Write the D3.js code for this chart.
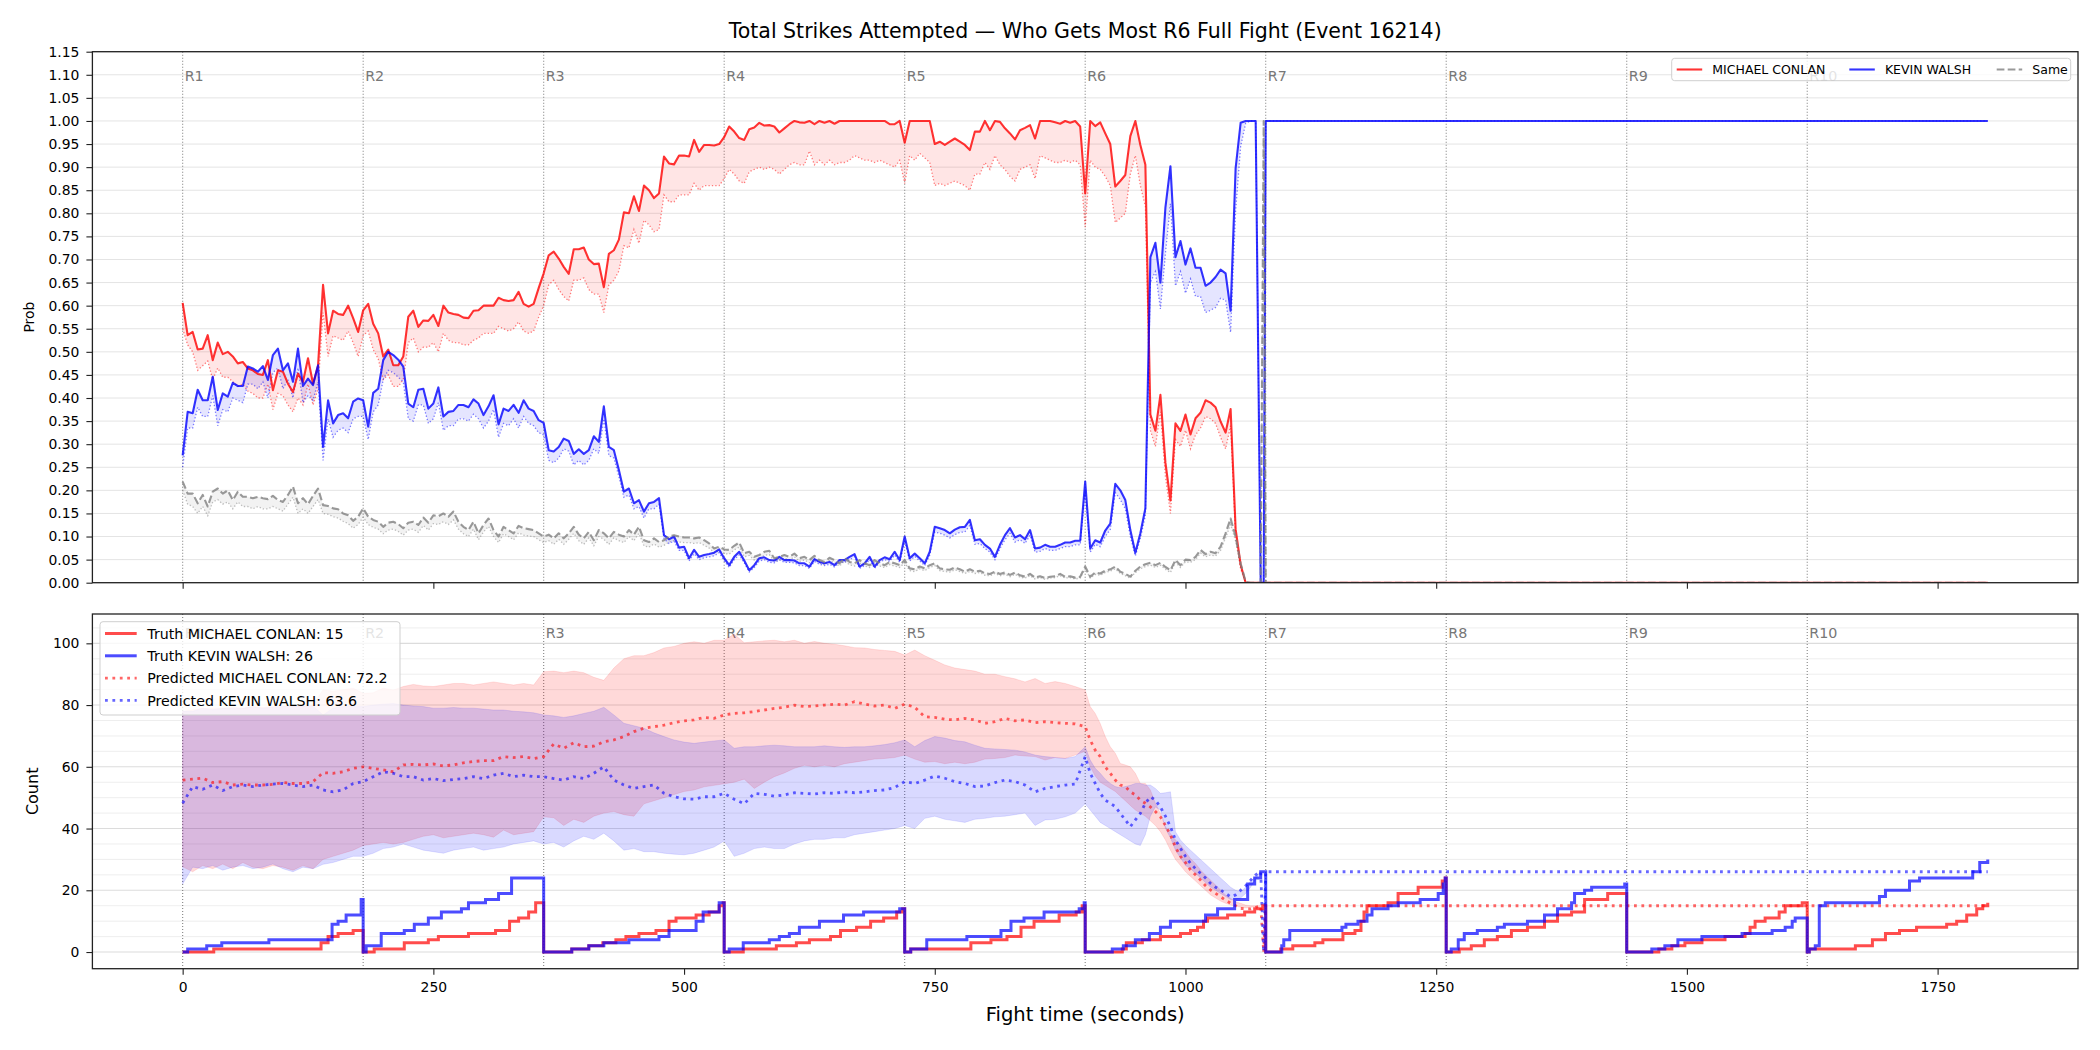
<!DOCTYPE html>
<html>
<head>
<meta charset="utf-8">
<script src="https://cdn.jsdelivr.net/npm/d3@7"></script>
<style>
  body { margin: 0; background: #fff; }
  text { font-family: "DejaVu Sans", sans-serif; }
</style>
</head>
<body>
<div id="chart"></div>
<script>
// ---------- data: win probability panel (sampled every 5 s, plus the R7 reset) ----------
var probTimes = d3.range(0, 1080, 5).concat([1078, 1080, 1800]);

var conlanProb = [
  0.606,0.536,0.543,0.505,0.507,0.536,0.482,0.52,0.495,0.50,0.49,0.475,
  0.478,0.464,0.46,0.452,0.45,0.482,0.417,0.46,0.457,0.431,0.413,0.453,
  0.435,0.486,0.431,0.47,0.645,0.54,0.589,0.582,0.58,0.60,0.573,0.543,
  0.59,0.604,0.561,0.54,0.49,0.505,0.471,0.471,0.49,0.576,0.589,0.554,
  0.568,0.567,0.58,0.556,0.60,0.585,0.582,0.58,0.574,0.573,0.589,0.59,
  0.60,0.60,0.60,0.617,0.612,0.61,0.612,0.63,0.604,0.598,0.604,0.638,
  0.67,0.709,0.717,0.702,0.684,0.669,0.722,0.722,0.726,0.70,0.69,0.691,
  0.64,0.712,0.72,0.743,0.802,0.80,0.837,0.805,0.86,0.85,0.833,0.843,
  0.923,0.908,0.906,0.925,0.925,0.923,0.959,0.933,0.948,0.948,0.947,0.95,
  0.965,0.988,0.977,0.963,0.959,0.982,0.986,0.996,0.99,0.991,0.988,0.975,
  0.984,0.993,1.0,0.997,0.996,1.0,0.993,1.0,0.996,1.0,0.994,1.0,
  1.0,1.0,1.0,1.0,1.0,1.0,1.0,1.0,1.0,0.993,0.993,1.0,
  0.953,1.0,1.0,1.0,1.0,1.0,0.95,0.955,0.948,0.955,0.962,0.955,
  0.948,0.937,0.977,0.977,1.0,0.98,1.0,0.998,0.984,0.973,0.96,0.98,
  0.985,0.991,0.962,1.0,1.0,1.0,0.997,0.994,1.0,0.996,1.0,0.988,
  0.843,1.0,0.989,0.997,0.973,0.95,0.858,0.87,0.883,0.967,1.0,0.948,
  0.905,0.364,0.329,0.407,0.26,0.178,0.345,0.329,0.364,0.321,0.356,0.368,
  0.395,0.39,0.38,0.349,0.325,0.376,0.116,0.039,0,0,0,0,
  0,0,0
];
var conlanProbLow = [
  0.55,0.515,0.50,0.46,0.47,0.48,0.44,0.465,0.445,0.445,0.435,0.425,
  0.43,0.415,0.41,0.40,0.40,0.43,0.375,0.41,0.405,0.385,0.37,0.40,
  0.385,0.43,0.385,0.42,0.585,0.49,0.535,0.53,0.525,0.545,0.52,0.49,
  0.535,0.545,0.505,0.485,0.44,0.45,0.425,0.425,0.44,0.52,0.53,0.50,
  0.51,0.51,0.52,0.50,0.54,0.525,0.52,0.52,0.515,0.515,0.525,0.53,
  0.54,0.54,0.54,0.555,0.55,0.545,0.55,0.565,0.545,0.54,0.545,0.575,
  0.60,0.645,0.655,0.635,0.62,0.61,0.655,0.655,0.66,0.635,0.625,0.625,
  0.585,0.645,0.655,0.675,0.73,0.725,0.765,0.735,0.785,0.775,0.76,0.765,
  0.84,0.825,0.825,0.84,0.84,0.84,0.865,0.85,0.86,0.86,0.86,0.86,
  0.875,0.895,0.885,0.87,0.865,0.89,0.895,0.90,0.895,0.90,0.895,0.885,
  0.895,0.905,0.91,0.905,0.905,0.935,0.905,0.915,0.905,0.915,0.905,0.91,
  0.91,0.915,0.925,0.92,0.915,0.915,0.91,0.915,0.91,0.905,0.90,0.915,
  0.865,0.925,0.915,0.93,0.92,0.91,0.86,0.865,0.86,0.865,0.87,0.865,
  0.86,0.85,0.885,0.885,0.91,0.895,0.925,0.905,0.895,0.88,0.87,0.895,
  0.90,0.905,0.875,0.925,0.92,0.915,0.91,0.91,0.915,0.91,0.915,0.905,
  0.77,0.915,0.90,0.895,0.88,0.86,0.78,0.79,0.80,0.885,0.925,0.86,
  0.815,0.33,0.295,0.37,0.23,0.15,0.31,0.295,0.33,0.29,0.32,0.335,
  0.36,0.355,0.345,0.315,0.29,0.34,0.10,0.03,0,0,0,0,
  0,0,0
];
var walshProb = [
  0.276,0.37,0.367,0.418,0.395,0.395,0.446,0.374,0.41,0.403,0.433,0.426,
  0.426,0.468,0.464,0.457,0.469,0.439,0.493,0.507,0.46,0.475,0.435,0.507,
  0.426,0.442,0.428,0.471,0.294,0.395,0.345,0.363,0.367,0.356,0.392,0.399,
  0.395,0.338,0.411,0.42,0.482,0.50,0.493,0.483,0.468,0.388,0.38,0.418,
  0.42,0.377,0.388,0.423,0.36,0.37,0.372,0.385,0.385,0.38,0.397,0.388,
  0.363,0.382,0.406,0.343,0.377,0.372,0.385,0.368,0.395,0.377,0.372,0.352,
  0.346,0.287,0.284,0.294,0.312,0.307,0.279,0.289,0.279,0.287,0.317,0.305,
  0.382,0.294,0.287,0.244,0.197,0.204,0.172,0.179,0.154,0.172,0.175,0.183,
  0.103,0.094,0.10,0.076,0.078,0.053,0.071,0.056,0.06,0.062,0.065,0.072,
  0.053,0.038,0.056,0.067,0.048,0.027,0.038,0.053,0.055,0.049,0.048,0.056,
  0.049,0.049,0.048,0.042,0.042,0.035,0.051,0.045,0.042,0.045,0.038,0.049,
  0.049,0.056,0.062,0.035,0.042,0.056,0.035,0.049,0.055,0.051,0.067,0.049,
  0.10,0.053,0.063,0.053,0.042,0.067,0.121,0.118,0.114,0.107,0.115,0.12,
  0.121,0.136,0.092,0.094,0.082,0.074,0.056,0.082,0.103,0.118,0.098,0.103,
  0.094,0.114,0.074,0.076,0.082,0.078,0.078,0.082,0.087,0.087,0.091,0.091,
  0.219,0.074,0.092,0.087,0.113,0.128,0.214,0.20,0.179,0.114,0.065,0.107,
  0.161,0.705,0.736,0.65,0.813,0.902,0.705,0.74,0.689,0.724,0.682,0.682,
  0.643,0.65,0.662,0.678,0.67,0.589,0.898,0.996,1.0,1.0,1.0,0,
  0,1.0,1.0
];
var walshProbLow = [
  0.25,0.335,0.335,0.38,0.36,0.36,0.405,0.34,0.375,0.37,0.40,0.395,
  0.39,0.43,0.43,0.42,0.435,0.40,0.455,0.465,0.42,0.44,0.40,0.465,
  0.39,0.405,0.395,0.435,0.265,0.355,0.315,0.33,0.335,0.325,0.355,0.36,
  0.36,0.31,0.37,0.385,0.44,0.46,0.455,0.445,0.435,0.355,0.35,0.385,
  0.385,0.345,0.355,0.39,0.33,0.34,0.34,0.355,0.355,0.35,0.365,0.355,
  0.335,0.35,0.375,0.315,0.345,0.34,0.355,0.335,0.36,0.345,0.34,0.325,
  0.32,0.265,0.26,0.27,0.29,0.285,0.255,0.265,0.255,0.265,0.29,0.28,
  0.355,0.275,0.27,0.23,0.185,0.19,0.16,0.165,0.14,0.16,0.16,0.17,
  0.095,0.085,0.09,0.07,0.07,0.047,0.063,0.05,0.054,0.056,0.058,0.065,
  0.047,0.033,0.05,0.06,0.043,0.023,0.033,0.047,0.05,0.044,0.043,0.05,
  0.044,0.044,0.043,0.037,0.037,0.031,0.046,0.04,0.037,0.04,0.034,0.044,
  0.044,0.05,0.056,0.031,0.037,0.05,0.031,0.044,0.05,0.046,0.06,0.044,
  0.09,0.047,0.057,0.047,0.037,0.06,0.11,0.107,0.103,0.097,0.104,0.109,
  0.11,0.124,0.083,0.085,0.074,0.066,0.05,0.074,0.093,0.107,0.088,0.093,
  0.085,0.103,0.066,0.068,0.074,0.07,0.07,0.074,0.078,0.078,0.082,0.082,
  0.20,0.066,0.083,0.078,0.10,0.115,0.195,0.18,0.16,0.10,0.058,0.096,
  0.145,0.65,0.674,0.593,0.713,0.821,0.643,0.674,0.627,0.658,0.62,0.62,
  0.585,0.59,0.596,0.616,0.612,0.542,0.805,0.945,0.995,1.0,1.0,0,
  0,1.0,1.0
];
var sameProb = [
  0.219,0.193,0.193,0.172,0.19,0.165,0.197,0.204,0.193,0.20,0.179,0.197,
  0.186,0.186,0.183,0.186,0.183,0.181,0.188,0.179,0.175,0.19,0.208,0.172,
  0.183,0.17,0.188,0.204,0.168,0.166,0.161,0.159,0.15,0.146,0.134,0.143,
  0.161,0.143,0.136,0.132,0.121,0.13,0.132,0.127,0.118,0.13,0.132,0.125,
  0.141,0.13,0.146,0.144,0.15,0.143,0.154,0.132,0.121,0.114,0.132,0.107,
  0.125,0.139,0.114,0.10,0.121,0.114,0.107,0.123,0.118,0.116,0.114,0.107,
  0.10,0.104,0.096,0.107,0.096,0.107,0.121,0.104,0.096,0.11,0.092,0.114,
  0.107,0.096,0.11,0.104,0.10,0.114,0.104,0.121,0.092,0.088,0.096,0.088,
  0.092,0.10,0.103,0.10,0.098,0.098,0.096,0.098,0.092,0.085,0.074,0.078,
  0.072,0.071,0.08,0.087,0.064,0.067,0.056,0.06,0.067,0.069,0.053,0.056,
  0.06,0.056,0.063,0.053,0.056,0.049,0.058,0.049,0.045,0.054,0.049,0.042,
  0.053,0.045,0.042,0.049,0.042,0.038,0.049,0.042,0.038,0.045,0.042,0.038,
  0.049,0.031,0.029,0.035,0.031,0.038,0.042,0.031,0.029,0.028,0.033,0.029,
  0.024,0.029,0.024,0.026,0.02,0.019,0.024,0.019,0.022,0.017,0.022,0.016,
  0.013,0.019,0.011,0.014,0.01,0.013,0.014,0.019,0.013,0.014,0.011,0.013,
  0.035,0.013,0.022,0.02,0.026,0.029,0.035,0.024,0.019,0.013,0.026,0.035,
  0.04,0.043,0.038,0.043,0.034,0.027,0.049,0.038,0.05,0.049,0.056,0.071,
  0.062,0.067,0.064,0.078,0.107,0.139,0.10,0.042,0.002,0,0,0,
  1.0,0,0
];
var sameProbLow = [
  0.20,0.17,0.165,0.15,0.165,0.145,0.175,0.18,0.17,0.175,0.16,0.175,
  0.165,0.165,0.16,0.165,0.16,0.16,0.165,0.16,0.155,0.17,0.185,0.15,
  0.16,0.15,0.165,0.18,0.15,0.148,0.143,0.14,0.133,0.128,0.118,0.126,
  0.142,0.126,0.12,0.116,0.106,0.114,0.116,0.111,0.103,0.114,0.116,0.109,
  0.124,0.114,0.128,0.126,0.132,0.126,0.136,0.116,0.106,0.10,0.116,0.093,
  0.11,0.122,0.10,0.087,0.106,0.10,0.093,0.108,0.103,0.101,0.10,0.093,
  0.087,0.091,0.083,0.094,0.083,0.094,0.107,0.091,0.083,0.097,0.08,0.10,
  0.094,0.083,0.097,0.091,0.087,0.10,0.091,0.107,0.08,0.077,0.084,0.077,
  0.081,0.088,0.091,0.088,0.087,0.087,0.085,0.087,0.081,0.075,0.065,0.069,
  0.063,0.062,0.071,0.077,0.056,0.059,0.049,0.053,0.059,0.061,0.046,0.049,
  0.053,0.049,0.056,0.046,0.049,0.043,0.051,0.043,0.039,0.048,0.043,0.036,
  0.047,0.039,0.036,0.043,0.036,0.033,0.043,0.036,0.033,0.039,0.036,0.033,
  0.043,0.026,0.024,0.03,0.026,0.033,0.037,0.026,0.024,0.023,0.028,0.024,
  0.02,0.024,0.02,0.022,0.016,0.015,0.02,0.015,0.018,0.013,0.018,0.012,
  0.01,0.015,0.008,0.011,0.007,0.01,0.011,0.015,0.01,0.011,0.008,0.01,
  0.03,0.01,0.018,0.016,0.022,0.025,0.03,0.02,0.015,0.01,0.022,0.03,
  0.035,0.038,0.033,0.038,0.029,0.022,0.044,0.033,0.045,0.044,0.05,0.064,
  0.056,0.06,0.058,0.07,0.097,0.126,0.09,0.035,0,0,0,0,
  0.97,0,0
];
var probTicks = [0,0.05,0.1,0.15,0.2,0.25,0.3,0.35,0.4,0.45,0.5,0.55,0.6,0.65,0.7,0.75,0.8,0.85,0.9,0.95,1,1.05,1.1,1.15];

// ---------- data: count panel ----------
var roundStarts = [0, 180, 360, 540, 720, 900, 1080, 1260, 1440, 1620];
var roundNames = ["R1","R2","R3","R4","R5","R6","R7","R8","R9","R10"];
var timeTicks = [0, 250, 500, 750, 1000, 1250, 1500, 1750];
var countTicks = [0, 20, 40, 60, 80, 100];

// truth counts, [seconds, count] at each change (reset every round)
var conlanTruth = [
  [0,0],[31,1],[138,3],[145,5],[155,6],[170,7],
  [180,0],[191,1],[221,3],[245,4],[255,5],[285,6],[312,7],[326,10],[335,11],[345,13],[352,16],
  [360,0],[388,1],[405,2],[419,3],[432,4],[442,5],[455,6],[472,7],[485,10],[492,11],[512,12],[525,13],[535,15],[539,16],
  [540,0],[559,1],[592,2],[612,3],[625,4],[646,5],[656,7],[672,8],[686,10],[699,11],[712,13],[718,14],
  [720,0],[726,1],[786,3],[806,4],[822,5],[836,8],[849,10],[874,12],[891,13],[897,15],
  [900,0],[937,1],[941,3],[957,4],[975,5],[995,6],[1005,7],[1012,8],[1018,10],[1022,11],[1042,12],[1059,13],[1069,14],[1077,15],
  [1080,0],[1095,1],[1107,2],[1129,3],[1137,4],[1157,6],[1169,7],[1175,10],[1178,13],[1181,15],[1202,16],[1212,19],[1232,21],[1256,23],[1259,24],
  [1260,0],[1273,1],[1285,2],[1298,4],[1311,5],[1325,7],[1341,8],[1358,10],[1371,12],[1385,13],[1398,17],[1421,19],
  [1440,0],[1472,1],[1485,2],[1498,3],[1515,4],[1538,5],[1558,6],[1563,8],[1568,10],[1578,11],[1592,13],[1598,15],[1615,16],
  [1620,0],[1622,1],[1668,2],[1685,4],[1698,6],[1712,7],[1729,8],[1759,9],[1769,10],[1779,12],[1789,14],[1795,15],[1800,16]
];
var walshTruth = [
  [0,0],[5,1],[24,2],[39,3],[86,4],[149,9],[155,10],[163,12],[178,17],
  [180,0],[183,2],[198,6],[221,7],[231,9],[245,11],[258,13],[278,14],[285,16],[302,17],[315,19],[328,24],
  [360,0],[388,1],[405,2],[420,3],[445,4],[475,5],[485,7],[512,10],[519,13],[535,16],
  [540,0],[545,1],[559,3],[585,4],[595,5],[605,6],[615,8],[635,10],[659,12],[679,13],[715,14],
  [720,0],[726,1],[742,4],[782,5],[816,7],[826,10],[839,11],[859,13],[894,14],[899,16],
  [900,0],[927,1],[938,2],[950,4],[964,6],[975,8],[985,10],[1020,12],[1032,14],[1049,17],[1062,22],[1069,24],[1075,26],
  [1080,0],[1096,2],[1098,4],[1104,7],[1156,8],[1160,9],[1172,10],[1181,12],[1186,14],[1202,15],[1212,16],[1234,17],[1252,19],[1257,22],[1259,24],
  [1260,0],[1265,1],[1272,4],[1278,6],[1291,7],[1311,8],[1318,9],[1341,10],[1358,12],[1371,14],[1385,16],[1388,19],[1398,20],[1405,21],[1438,22],
  [1440,0],[1465,1],[1478,2],[1491,4],[1515,5],[1555,6],[1585,7],[1598,8],[1605,10],[1608,11],
  [1620,0],[1622,1],[1628,2],[1632,15],[1638,16],[1692,18],[1698,20],[1722,23],[1732,24],[1785,26],[1792,29],[1800,30]
];

// predicted counts: every 10 s up to 890, every 5 s in R6, then the reset
var predTimes = d3.range(0, 900, 10).concat(d3.range(900, 1080, 5)).concat([1078, 1080, 1800]);
var conlanPred = [
  55.7,56,56.3,54.9,55.2,54.1,54.4,54.1,54.1,54.3,54.9,54.6,
  54.6,55.2,58.1,57.9,58.4,59.5,60,59.5,59,58.4,60.6,60.8,
  60.6,60.9,60.3,60.6,61.3,61.7,62,62,63.3,63,63.3,62.7,
  63.3,67.4,66,67.8,66.5,66.7,68.1,68.7,69.8,71.4,72.5,73,
  73.5,74.3,74.9,75.2,76,75.7,76.8,77.3,77.5,77.9,78.4,78.9,
  79.3,80,79.5,79.7,80,80.3,80,81.1,80.3,79.7,80,78.9,
  80.3,79.3,76.2,76,75.4,75.2,75.7,75.2,74.1,74.6,75.7,74.9,
  75.2,74.3,74.6,74.3,74.1,73.9,
  73,68.7,65.4,63.3,60,57.9,55.7,54.1,53.6,51.9,50.9,49.2,
  48.2,47,45.5,43.8,41,38,34,31,29,26.6,25,23.3,
  21.5,20.1,19,17.9,16.8,15.8,15,14.1,14,14,14.5,14.9,
  0,15,15
];
var walshPred = [
  48.2,53.6,52.7,54.1,52.3,53.6,54.1,53.6,54.1,54.4,54.6,54.1,
  53.6,54.1,52.5,51.9,52.5,54.6,55.2,56.8,58.4,57.9,56.8,56.8,
  55.7,56.2,55.5,55.9,56.2,56.8,56.2,57.3,57.9,56.8,57.3,56.8,
  56.8,56.2,55.7,56.8,56.2,57.9,60,55.7,54.1,53,53.6,54.1,
  51.4,50.3,49.6,49.5,50.3,50.3,51.4,49.5,48,51.4,51.1,50.5,
  50.9,51.6,51.4,51.2,51.6,51.4,51.9,51.6,51.9,52.3,52.5,53.3,
  55.2,54.6,55.7,57,56.3,55.2,54.6,53.6,53.8,54.9,55.7,55.2,
  54.1,51.9,53,53.6,54.1,54.4,
  63.3,57.9,54.6,51.4,49.2,48.2,47.1,44.9,42.8,40.6,42.8,44.9,
  48.2,50.3,49.2,47,44,40.6,36.3,33.6,31,28.7,27,25.5,
  24,22.2,21,20.1,19,17.9,18.5,20,21.5,23.3,25,26,
  0,26,26
];
// uncertainty bands (same times, up to 1075 s)
var conlanHigh = [
  78,78.5,79,79,79,79.3,79,79.5,79.3,79.5,79.7,79.5,
  79.7,80,85,84.5,85,85.5,83.8,84,85.5,84.9,86,86.7,
  86.2,86,86.5,87,87,86.5,87,87.5,87,86.5,87,86.5,
  90.8,91,90.5,91,90.5,89,88,92,95,96,96,97,
  98.5,99,100,100.5,100,101,101,103,100.2,100.5,100.8,101,
  100.5,101,100,100.6,100,99.7,99.2,98.6,98.5,98,97.7,97.4,
  96.2,97.8,96,94.5,93,92,91.5,91,90,90,89.2,88.5,
  87.5,88.6,87,87.6,87,86,
  84.9,79.5,77.3,74,69.8,66.5,64.4,61.1,60.6,60,57.9,54.6,
  54.6,52.5,48.2,44.9,40.6,38.4,36.3,34.7,32.5,30.3,28.7,26.6,
  24.9,23.3,21.7,20.1,18.5,17.4,16.3,15.8,15.2,15,15,14.9
];
var conlanLowBand = [
  27.6,26,28,27,28.5,27,29,27.5,27,28,27.5,26.5,
  28,27,30,31,32,33,34.5,35,35.5,35,35.5,36.5,
  37.5,38,37,37.5,38,38.5,38,37.2,39.5,38,38.5,39,
  43.8,43.5,41,43,42,44,45,45.5,44.5,44,48,49,
  50,51,52,52.5,53.5,54,54.5,55,56,53,55,56.8,
  58,59.5,60.5,60,60.5,60,61,61.5,62,62.5,62.7,63,
  63.8,62.5,61.5,61.7,61,61.5,61,61.5,62.5,62.7,63,63.8,
  63.5,63.3,62.2,63,62.7,63.8,
  65,60,57,55,54,53,52,50.5,49,47.5,46,45,
  44,42.5,41,39,36.3,33,30,28,26,24.5,23,21.5,
  20,18.5,17.5,16.5,15.8,15.2,14.9,14.5,14.3,14.5,14.7,14.9
];
var walshHigh = [
  78,78,79,78.5,79,79,79,79.5,79,79.3,79.5,79.7,
  79.5,79.7,76.8,79,79.5,79.5,79.5,80,80.3,80.5,80,79.7,
  79.5,79,79,79.2,79,79,78.7,78.4,78.4,78,77.8,77.5,
  76.8,76.5,76,76.5,77.3,78,79.3,76.8,74.1,73.3,72.5,71,
  69.8,68.7,68,67.6,68,68.4,68.7,66,66.5,66.5,66.8,67,
  66.8,66.5,66.5,66.5,66.8,66.5,66.3,66.5,66.5,66.8,67.2,67.8,
  68.7,66.5,68.5,69.8,69.3,68.5,68.1,67,66,65.8,65.6,65.4,
  64.8,63.8,63.3,63,62.7,63.3,
  66.5,62.2,59.5,57.9,56,54.6,53.6,53.2,53.6,54,54.6,54.6,
  54.1,54.1,53,51.4,51.6,51.9,39,36.3,34.5,33,31.5,30,
  28.5,27,25.5,24,22.5,21,20,19.5,21,23,24.5,26
];
var walshLowBand = [
  22,27.5,27,28,26.5,27.5,28,27,27.5,28.5,27,26,
  27.5,27,28.4,29,30,31,31,32,33.5,34,35,34,
  33,32.5,32,33,33.5,34,33,33.5,34,35,35.5,36,
  35,35.5,34,36,37.5,36.5,38.5,36,33,33.5,32.5,32.5,
  32,31.7,31.5,32,33,34,36,31,32,33.5,34,33.5,
  33.5,35,36,36.5,36.5,37,37,38,38.5,39,39.5,40,
  41,40,43.3,44,43,42.5,42,43,43.3,43.8,44,44.5,
  45,41,42.8,43,43.8,45,
  48,46,44,42,41,40,39,38,37,36,35,34.5,
  38,44,47,46,40,37,33,30.5,28,27,25.5,24,
  22.5,21,20,19,18,17,17,17.5,19,21,23.5,26
];

// ---------- layout ----------
var svgWidth = 2100;
var svgHeight = 1050;
var plotLeft = 92.4, plotRight = 2078;
var topPanel = {top: 51.7, bottom: 582.7};
var botPanel = {top: 614, bottom: 968.7};
var fontBase = "'DejaVu Sans', sans-serif";

var svg = d3.select("#chart")
  .append("svg")
  .attr("width", svgWidth)
  .attr("height", svgHeight)
  .style("background", "#fff");

var xScale = d3.scaleLinear().domain([-90, 1890]).range([plotLeft, plotRight]);
var yProb = d3.scaleLinear().domain([0, 1.15]).range([topPanel.bottom, topPanel.top]);
var yCount = d3.scaleLinear().domain([-5.4, 109.5]).range([botPanel.bottom, botPanel.top]);

// clip areas
var defs = svg.append("defs");
defs.append("clipPath").attr("id", "clipTop").append("rect")
  .attr("x", plotLeft).attr("y", topPanel.top)
  .attr("width", plotRight - plotLeft).attr("height", topPanel.bottom - topPanel.top);
defs.append("clipPath").attr("id", "clipBot").append("rect")
  .attr("x", plotLeft).attr("y", botPanel.top)
  .attr("width", plotRight - plotLeft).attr("height", botPanel.bottom - botPanel.top);

// title
svg.append("text")
  .attr("x", (plotLeft + plotRight) / 2)
  .attr("y", 38)
  .attr("text-anchor", "middle")
  .style("font-size", "20.5px")
  .style("fill", "#000")
  .text("Total Strikes Attempted \u2014 Who Gets Most R6 Full Fight (Event 16214)");

// ======================= top panel =======================
var topGroup = svg.append("g");

// horizontal grid
topGroup.selectAll(".gridTop")
  .data(probTicks)
  .enter()
  .append("line")
  .attr("x1", plotLeft).attr("x2", plotRight)
  .attr("y1", d => yProb(d)).attr("y2", d => yProb(d))
  .attr("stroke", "#e4e4e4")
  .attr("stroke-width", 1);

// round markers
function drawRounds(g, y0, y1, labelY) {
  g.selectAll(null)
    .data(roundStarts)
    .enter()
    .append("line")
    .attr("x1", d => xScale(d)).attr("x2", d => xScale(d))
    .attr("y1", y0).attr("y2", y1)
    .attr("stroke", "#666")
    .attr("stroke-opacity", 0.8)
    .attr("stroke-width", 1.1)
    .attr("stroke-dasharray", "1.1,1.9");
  g.selectAll(null)
    .data(roundStarts)
    .enter()
    .append("text")
    .attr("x", d => xScale(d) + 2)
    .attr("y", labelY)
    .style("font-size", "14.3px")
    .style("fill", "#777")
    .text((d, i) => roundNames[i]);
}
drawRounds(topGroup, topPanel.top, topPanel.bottom, 80.5);

var probPoints = function(vals) {
  return probTimes.map((t, i) => [t, vals[i]]);
};

var probSeries = [
  {main: conlanProb, low: conlanProbLow, color: "#ff0000", dash: null},
  {main: walshProb, low: walshProbLow, color: "#0000ff", dash: null},
  {main: sameProb, low: sameProbLow, color: "#808080", dash: "7.7,3.3"}
];

var plotTop = topGroup.append("g").attr("clip-path", "url(#clipTop)");

var probArea = d3.area()
  .x(d => xScale(d.t))
  .y0(d => yProb(d.lo))
  .y1(d => yProb(d.hi))
  .defined(d => d.lo != null && d.hi != null);

var probLine = d3.line()
  .x(d => xScale(d[0]))
  .y(d => yProb(d[1]))
  .defined(d => d[1] != null);

probSeries.forEach(function(s) {
  var band = probTimes.map((t, i) => ({t: t, lo: s.low[i], hi: s.main[i]}));
  plotTop.append("path")
    .datum(band)
    .attr("d", probArea)
    .attr("fill", s.color)
    .attr("fill-opacity", 0.1);
});

probSeries.forEach(function(s) {
  plotTop.append("path")
    .datum(probPoints(s.low))
    .attr("d", probLine)
    .attr("fill", "none")
    .attr("stroke", s.color)
    .attr("stroke-opacity", 0.5)
    .attr("stroke-width", 1.3)
    .attr("stroke-dasharray", "1.3,2.1");
});

probSeries.forEach(function(s) {
  plotTop.append("path")
    .datum(probPoints(s.main))
    .attr("d", probLine)
    .attr("fill", "none")
    .attr("stroke", s.color)
    .attr("stroke-opacity", 0.8)
    .attr("stroke-width", 2.1)
    .attr("stroke-linejoin", "round")
    .attr("stroke-dasharray", s.dash);
});

// axes for top panel
function styleAxis(g) {
  g.select(".domain").remove();
  g.selectAll("line").attr("stroke", "#222").attr("stroke-width", 1.1);
  g.selectAll("text").style("font-size", "13.9px").style("font-family", fontBase).attr("fill", "#000");
}

topGroup.append("g")
  .attr("transform", `translate(${plotLeft},0)`)
  .call(d3.axisLeft(yProb).tickValues(probTicks).tickFormat(d3.format(".2f")).tickSize(6).tickPadding(7))
  .call(styleAxis);

topGroup.append("g")
  .attr("transform", `translate(0,${topPanel.bottom})`)
  .call(d3.axisBottom(xScale).tickValues(timeTicks).tickFormat("").tickSize(6))
  .call(styleAxis);

topGroup.append("rect")
  .attr("x", plotLeft).attr("y", topPanel.top)
  .attr("width", plotRight - plotLeft).attr("height", topPanel.bottom - topPanel.top)
  .attr("fill", "none")
  .attr("stroke", "#222")
  .attr("stroke-width", 1.3);

svg.append("text")
  .attr("transform", `translate(33.5,${(topPanel.top + topPanel.bottom) / 2}) rotate(-90)`)
  .attr("text-anchor", "middle")
  .style("font-size", "13.9px")
  .text("Prob");

// legend for top panel
var legTop = topGroup.append("g");
legTop.append("rect")
  .attr("x", 1671.7).attr("y", 58.3)
  .attr("width", 399).attr("height", 22.4)
  .attr("rx", 3)
  .attr("fill", "#fff").attr("fill-opacity", 0.8)
  .attr("stroke", "#cfcfcf").attr("stroke-width", 1);

var legTopItems = [
  {label: "MICHAEL CONLAN", color: "#ff0000", dash: null, x: 1676.7},
  {label: "KEVIN WALSH", color: "#0000ff", dash: null, x: 1849.3},
  {label: "Same", color: "#808080", dash: "7.7,3.3", x: 1996.7}
];
legTopItems.forEach(function(d) {
  legTop.append("line")
    .attr("x1", d.x).attr("x2", d.x + 25.5)
    .attr("y1", 69.5).attr("y2", 69.5)
    .attr("stroke", d.color).attr("stroke-opacity", 0.8)
    .attr("stroke-width", 2.1)
    .attr("stroke-dasharray", d.dash);
  legTop.append("text")
    .attr("x", d.x + 35.6).attr("y", 74)
    .style("font-size", "12.5px")
    .text(d.label);
});

// ======================= bottom panel =======================
var botGroup = svg.append("g");

var minorCount = d3.range(0, 110, 5);
botGroup.selectAll(".gridBot")
  .data(minorCount)
  .enter()
  .append("line")
  .attr("x1", plotLeft).attr("x2", plotRight)
  .attr("y1", d => yCount(d)).attr("y2", d => yCount(d))
  .attr("stroke", d => d % 20 === 0 ? "#dcdcdc" : "#ececec")
  .attr("stroke-width", d => d % 20 === 0 ? 1.1 : 0.9);

drawRounds(botGroup, botPanel.top, botPanel.bottom, 637.5);

var plotBot = botGroup.append("g").attr("clip-path", "url(#clipBot)");

var bandTimes = predTimes.slice(0, conlanHigh.length);
var countArea = d3.area()
  .x(d => xScale(d.t))
  .y0(d => yCount(d.lo))
  .y1(d => yCount(d.hi));

[[conlanLowBand, conlanHigh, "#ff0000"], [walshLowBand, walshHigh, "#0000ff"]].forEach(function(b) {
  var pts = bandTimes.map((t, i) => ({t: t, lo: b[0][i], hi: b[1][i]}));
  plotBot.append("path")
    .datum(pts)
    .attr("d", countArea)
    .attr("fill", b[2])
    .attr("fill-opacity", 0.15)
    .attr("stroke", b[2])
    .attr("stroke-opacity", 0.1)
    .attr("stroke-width", 1);
});

var countLine = d3.line()
  .x(d => xScale(d[0]))
  .y(d => yCount(d[1]));

[[conlanPred, "#ff0000"], [walshPred, "#0000ff"]].forEach(function(p) {
  plotBot.append("path")
    .datum(predTimes.map((t, i) => [t, p[0][i]]))
    .attr("d", countLine)
    .attr("fill", "none")
    .attr("stroke", p[1])
    .attr("stroke-opacity", 0.6)
    .attr("stroke-width", 2.8)
    .attr("stroke-dasharray", "2.8,4.6");
});

var stepLine = d3.line()
  .x(d => xScale(d[0]))
  .y(d => yCount(d[1]))
  .curve(d3.curveStepAfter);

[[conlanTruth, "#ff0000"], [walshTruth, "#0000ff"]].forEach(function(p) {
  plotBot.append("path")
    .datum(p[0])
    .attr("d", stepLine)
    .attr("fill", "none")
    .attr("stroke", p[1])
    .attr("stroke-opacity", 0.7)
    .attr("stroke-width", 3);
});

botGroup.append("g")
  .attr("transform", `translate(${plotLeft},0)`)
  .call(d3.axisLeft(yCount).tickValues(countTicks).tickFormat(d3.format("d")).tickSize(6).tickPadding(7))
  .call(styleAxis);

botGroup.append("g")
  .attr("transform", `translate(0,${botPanel.bottom})`)
  .call(d3.axisBottom(xScale).tickValues(timeTicks).tickFormat(d3.format("d")).tickSize(6).tickPadding(7))
  .call(styleAxis);

botGroup.append("rect")
  .attr("x", plotLeft).attr("y", botPanel.top)
  .attr("width", plotRight - plotLeft).attr("height", botPanel.bottom - botPanel.top)
  .attr("fill", "none")
  .attr("stroke", "#222")
  .attr("stroke-width", 1.3);

svg.append("text")
  .attr("transform", `translate(38,${(botPanel.top + botPanel.bottom) / 2}) rotate(-90)`)
  .attr("text-anchor", "middle")
  .style("font-size", "16px")
  .text("Count");

svg.append("text")
  .attr("x", (plotLeft + plotRight) / 2)
  .attr("y", 1021)
  .attr("text-anchor", "middle")
  .style("font-size", "19.5px")
  .text("Fight time (seconds)");

// legend for bottom panel
var legBot = botGroup.append("g");
legBot.append("rect")
  .attr("x", 100).attr("y", 621.7)
  .attr("width", 300).attr("height", 93.3)
  .attr("rx", 3)
  .attr("fill", "#fff").attr("fill-opacity", 0.8)
  .attr("stroke", "#cfcfcf").attr("stroke-width", 1);

var legBotItems = [
  {label: "Truth MICHAEL CONLAN: 15", color: "#ff0000", op: 0.7, dash: null, w: 3},
  {label: "Truth KEVIN WALSH: 26", color: "#0000ff", op: 0.7, dash: null, w: 3},
  {label: "Predicted MICHAEL CONLAN: 72.2", color: "#ff0000", op: 0.6, dash: "2.8,4.6", w: 2.8},
  {label: "Predicted KEVIN WALSH: 63.6", color: "#0000ff", op: 0.6, dash: "2.8,4.6", w: 2.8}
];
legBotItems.forEach(function(d, i) {
  var yy = 633.5 + i * 22.3;
  legBot.append("line")
    .attr("x1", 105).attr("x2", 136.7)
    .attr("y1", yy).attr("y2", yy)
    .attr("stroke", d.color).attr("stroke-opacity", d.op)
    .attr("stroke-width", d.w)
    .attr("stroke-dasharray", d.dash);
  legBot.append("text")
    .attr("x", 147.3).attr("y", yy + 5.2)
    .style("font-size", "14.2px")
    .text(d.label);
});
</script>
</body>
</html>
